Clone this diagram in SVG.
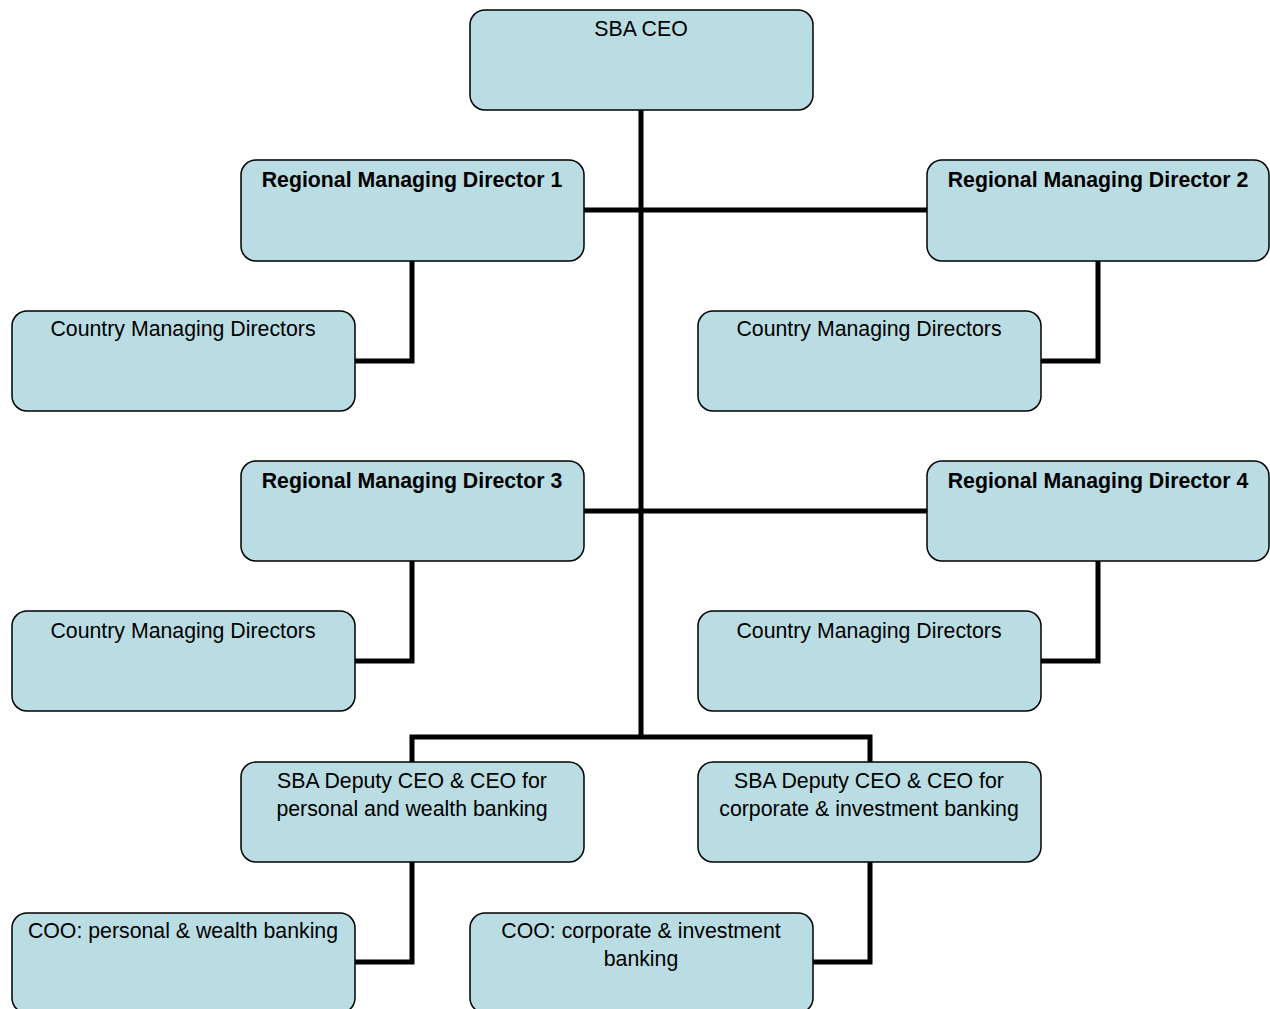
<svg xmlns="http://www.w3.org/2000/svg" width="1270" height="1009" viewBox="0 0 1270 1009">
<style>
.box{fill:#badde3;stroke:#000;stroke-width:1.5}
.t{font-family:"Liberation Sans",Arial,sans-serif;font-size:21.3px;fill:#000;text-anchor:middle}
.b{font-weight:bold}
.c{fill:none;stroke:#000;stroke-width:5}
</style>
<rect width="1270" height="1009" fill="#fff"/>
<g id="connectors">
<path class="c" d="M641 110V737"/>
<path class="c" d="M584 210H927"/>
<path class="c" d="M584 511H927"/>
<path class="c" d="M412 762V737H870V762"/>
<path class="c" d="M412 261V361H355"/>
<path class="c" d="M1098 261V361H1041"/>
<path class="c" d="M412 561V661H355"/>
<path class="c" d="M1098 561V661H1041"/>
<path class="c" d="M412 862V962H355"/>
<path class="c" d="M870 862V962H813"/>
</g>
<g id="ceo"><rect class="box" x="470" y="10" width="343" height="100" rx="15"/><text class="t" x="641" y="36">SBA CEO</text></g>
<g id="rmd1"><rect class="box" x="241" y="160" width="343" height="101" rx="15"/><text class="t b" x="412" y="187">Regional Managing Director 1</text></g>
<g id="rmd2"><rect class="box" x="927" y="160" width="342" height="101" rx="15"/><text class="t b" x="1098" y="187">Regional Managing Director 2</text></g>
<g id="cmd1"><rect class="box" x="12" y="311" width="343" height="100" rx="15"/><text class="t" x="183" y="336">Country Managing Directors</text></g>
<g id="cmd2"><rect class="box" x="698" y="311" width="343" height="100" rx="15"/><text class="t" x="869" y="336">Country Managing Directors</text></g>
<g id="rmd3"><rect class="box" x="241" y="461" width="343" height="100" rx="15"/><text class="t b" x="412" y="488">Regional Managing Director 3</text></g>
<g id="rmd4"><rect class="box" x="927" y="461" width="342" height="100" rx="15"/><text class="t b" x="1098" y="488">Regional Managing Director 4</text></g>
<g id="cmd3"><rect class="box" x="12" y="611" width="343" height="100" rx="15"/><text class="t" x="183" y="638">Country Managing Directors</text></g>
<g id="cmd4"><rect class="box" x="698" y="611" width="343" height="100" rx="15"/><text class="t" x="869" y="638">Country Managing Directors</text></g>
<g id="dep1"><rect class="box" x="241" y="762" width="343" height="100" rx="15"/><text class="t" x="412" y="788">SBA Deputy CEO &amp; CEO for</text><text class="t" x="412" y="816">personal and wealth banking</text></g>
<g id="dep2"><rect class="box" x="698" y="762" width="343" height="100" rx="15"/><text class="t" x="869" y="788">SBA Deputy CEO &amp; CEO for</text><text class="t" x="869" y="816">corporate &amp; investment banking</text></g>
<g id="coo1"><rect class="box" x="12" y="913" width="343" height="100" rx="15"/><text class="t" x="183" y="938">COO: personal &amp; wealth banking</text></g>
<g id="coo2"><rect class="box" x="470" y="913" width="343" height="100" rx="15"/><text class="t" x="641" y="938">COO: corporate &amp; investment</text><text class="t" x="641" y="966">banking</text></g>
</svg>
